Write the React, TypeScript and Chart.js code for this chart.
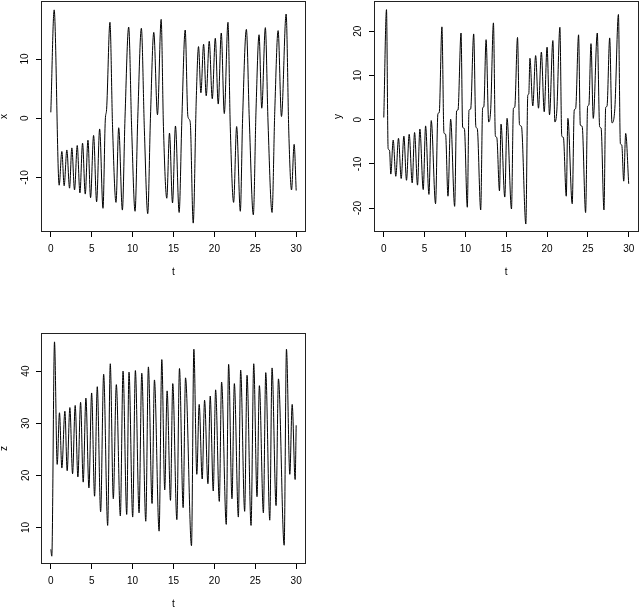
import React, { useEffect, useRef } from "react";
import { Chart, registerables } from "chart.js";
Chart.register(...registerables);

const FONT = "'Liberation Sans', Arial, Helvetica, sans-serif";

// time ticks shared by all panels
const tTicks = [0, 5, 10, 15, 20, 25, 30];

// x(t) (extrema and shoulders)
const tX = [0.0, 0.41, 1.02, 1.35, 1.63, 1.96, 2.29, 2.57, 2.9, 3.23, 3.56, 3.88, 4.21, 4.54, 4.86, 5.23, 5.6, 5.97, 6.38, 6.66, 6.82, 7.23, 7.55, 7.97, 8.3, 8.75, 9.07, 9.52, 9.89, 10.3, 10.63, 11.07, 11.44, 11.85, 12.18, 12.59, 13.04, 13.49, 13.77, 14.18, 14.51, 14.88, 15.24, 15.69, 16.02, 16.43, 16.76, 17.04, 17.41, 17.78, 18.06, 18.35, 18.68, 19.0, 19.37, 19.74, 20.11, 20.47, 20.84, 21.21, 21.66, 21.94, 22.35, 22.72, 23.17, 23.45, 23.91, 24.27, 24.76, 25.09, 25.46, 25.79, 26.23, 26.56, 27.05, 27.38, 27.79, 28.2, 28.77, 29.1, 29.43, 29.75, 30.0];
const xVals = [1.0, 18.3, -11.3, -5.6, -11.4, -5.35, -11.8, -5.0, -12.1, -4.6, -12.6, -4.2, -12.8, -3.7, -13.4, -2.9, -14.1, -1.8, -15.2, -0.3, 1.5, 16.2, -1.5, -14.2, -1.6, -15.5, 0.0, 15.4, -2.0, -15.7, 0.0, 15.2, -2.0, -16.1, 0.0, 14.5, 0.6, 16.7, -1.4, -13.5, -2.5, -14.3, -1.3, -15.9, -0.3, 14.9, 0.3, -0.6, -17.7, 3.1, 12.1, 4.3, 12.5, 3.8, 13.0, 3.3, 13.5, 2.4, 14.4, 0.8, 16.2, -1.4, -14.2, -1.4, -15.7, 0.0, 15.0, -0.3, -16.3, 1.4, 14.1, 1.7, 15.3, -0.8, -15.9, 1.1, 14.8, 0.3, 17.6, -2.5, -12.1, -4.4, -12.2];
const xTicksY = [-10, 0, 10];

// y(t)
const tY = [0.0, 0.33, 0.53, 0.7, 0.86, 1.15, 1.47, 1.8, 2.13, 2.46, 2.78, 3.11, 3.48, 3.77, 4.13, 4.42, 4.83, 5.12, 5.53, 5.81, 6.34, 6.63, 6.79, 7.12, 7.37, 7.57, 7.86, 8.19, 8.68, 8.92, 9.09, 9.46, 9.66, 9.87, 10.23, 10.44, 10.64, 11.01, 11.28, 11.45, 11.87, 12.11, 12.25, 12.53, 12.85, 13.1, 13.43, 13.67, 13.84, 14.17, 14.36, 14.82, 15.1, 15.64, 15.88, 16.04, 16.38, 16.62, 16.86, 17.4, 17.64, 17.76, 17.9, 18.25, 18.6, 18.95, 19.3, 19.65, 20.0, 20.3, 20.71, 20.96, 21.2, 21.57, 21.8, 22.0, 22.35, 22.55, 23.08, 23.33, 23.5, 23.86, 24.07, 24.3, 24.72, 24.97, 25.12, 25.38, 25.66, 26.15, 26.44, 26.62, 26.97, 27.18, 27.34, 27.67, 27.95, 28.3, 28.74, 28.98, 29.15, 29.39, 29.63, 30.0];
const yVals = [0.5, 24.9, -6.5, -6.9, -12.3, -4.6, -12.8, -4.2, -13.3, -3.7, -13.7, -3.3, -14.3, -2.9, -14.8, -2.1, -15.8, -1.4, -16.9, -0.2, -19.0, 1.4, 1.6, 21.0, -3.0, -3.3, -17.3, 0.1, -19.6, 2.0, 2.2, 19.6, -1.7, -2.0, -19.8, 2.2, 2.4, 19.4, -1.6, -2.0, -20.4, 2.7, 2.9, 18.1, -0.5, 2.5, 21.9, -3.7, -4.0, -16.1, -1.0, -17.5, 0.3, -20.2, 2.6, 2.8, 18.6, -1.1, -1.5, -23.6, 5.6, 5.8, 13.9, 3.1, 14.5, 2.6, 15.3, 1.8, 16.4, 1.1, 17.9, -0.5, 2.2, 20.9, -3.7, -4.0, -17.3, 0.3, -19.0, 2.2, 2.5, 19.2, -1.2, -1.5, -21.0, 3.1, 3.3, 17.2, 0.3, 19.6, -1.6, -1.9, -20.4, 2.8, 3.0, 18.5, -0.7, 2.5, 23.8, -5.4, -5.7, -13.9, -3.1, -14.5];
const yTicksY = [-20, -10, 0, 10, 20];

// z(t)
const tZ = [0.0, 0.12, 0.45, 0.78, 1.06, 1.35, 1.72, 2.0, 2.33, 2.66, 2.98, 3.31, 3.64, 3.96, 4.29, 4.66, 4.99, 5.35, 5.68, 6.09, 6.46, 6.95, 7.27, 7.64, 8.01, 8.5, 8.83, 9.28, 9.56, 10.01, 10.34, 10.79, 11.12, 11.61, 11.93, 12.38, 12.67, 13.24, 13.57, 13.93, 14.22, 14.63, 14.91, 15.41, 15.73, 16.18, 16.47, 17.2, 17.49, 17.85, 18.14, 18.51, 18.8, 19.21, 19.49, 19.86, 20.15, 20.6, 20.88, 21.45, 21.74, 22.15, 22.44, 22.93, 23.21, 23.7, 23.99, 24.48, 24.81, 25.21, 25.5, 25.99, 26.28, 26.77, 27.05, 27.54, 27.83, 28.53, 28.81, 29.22, 29.51, 29.87, 30.0];
const zVals = [5.8, 4.5, 45.6, 22.1, 32.0, 21.4, 32.3, 20.9, 33.0, 20.3, 33.4, 19.7, 34.0, 18.7, 34.8, 17.6, 35.8, 16.0, 37.0, 13.0, 39.4, 10.4, 41.4, 15.5, 37.4, 12.2, 40.0, 12.5, 39.8, 12.0, 40.1, 12.8, 39.6, 11.2, 40.8, 14.6, 38.3, 9.3, 42.2, 17.2, 36.2, 15.2, 37.6, 11.5, 40.5, 13.8, 38.7, 6.5, 44.2, 20.2, 33.6, 19.3, 34.4, 18.4, 35.2, 17.0, 36.4, 15.0, 37.9, 10.6, 41.3, 15.5, 37.6, 12.0, 40.2, 13.1, 39.2, 10.4, 41.4, 15.9, 37.2, 12.8, 39.7, 11.4, 40.6, 14.2, 38.5, 6.6, 44.2, 20.2, 33.6, 19.2, 29.6];
const zTicksY = [10, 20, 30, 40];

const boxPlugin = {
  id: "rbox",
  afterDraw(chart: any) {
    const { ctx, chartArea } = chart;
    ctx.save();
    ctx.strokeStyle = "#222";
    ctx.lineWidth = 1;
    const l = Math.round(chartArea.left) + 0.5;
    const t = Math.round(chartArea.top) + 0.5;
    const r = Math.round(chartArea.right) - 0.5;
    const b = Math.round(chartArea.bottom) - 0.5;
    ctx.strokeRect(l, t, r - l, b - t);
    ctx.restore();
  },
};

type PanelProps = {
  left: number;
  top: number;
  t: number[];
  v: number[];
  yTicks: number[];
  yMin: number;
  yMax: number;
  label: string;
  area: { left: number; top: number; right: number; bottom: number };
  yTitlePad: number;
  xTitlePad: number;
};

function Panel(p: PanelProps) {
  const ref = useRef<HTMLCanvasElement>(null);
  useEffect(() => {
    const W = 320;
    const H = 304;
    const zero = (s: any) => {
      s.paddingTop = 0;
      s.paddingBottom = 0;
      s.paddingLeft = 0;
      s.paddingRight = 0;
    };
    const chart = new Chart(ref.current as HTMLCanvasElement, {
      type: "line",
      data: {
        datasets: [
          {
            data: p.t.map((tt, i) => ({ x: tt, y: p.v[i] })),
            borderColor: "#000",
            borderWidth: 1,
            pointRadius: 0,
            cubicInterpolationMode: "monotone",
            fill: false,
          },
        ],
      },
      options: {
        responsive: false,
        animation: false,
        events: [],
        layout: {
          padding: { left: 0, top: p.area.top, right: W - p.area.right, bottom: 0 },
        },
        plugins: { legend: { display: false }, tooltip: { enabled: false } },
        scales: {
          x: {
            type: "linear",
            position: "bottom",
            min: -1.2,
            max: 31.2,
            afterBuildTicks: (s: any) => {
              s.ticks = tTicks.map((value) => ({ value }));
            },
            afterFit: (s: any) => {
              s.height = H - p.area.bottom;
              zero(s);
            },
            grid: { drawOnChartArea: false, drawTicks: true, tickLength: 5, color: "#000", lineWidth: 1 },
            border: { display: false },
            ticks: {
              padding: 6,
              color: "#000",
              font: { family: FONT, size: 10 },
              maxRotation: 0,
              minRotation: 0,
              autoSkip: false,
            },
            title: {
              display: true,
              text: "t",
              color: "#000",
              font: { family: FONT, size: 10, lineHeight: 0.8 },
              padding: { top: 0, bottom: p.xTitlePad },
            },
          },
          y: {
            type: "linear",
            position: "left",
            min: p.yMin,
            max: p.yMax,
            afterBuildTicks: (s: any) => {
              s.ticks = p.yTicks.map((value) => ({ value }));
            },
            afterFit: (s: any) => {
              s.width = p.area.left;
              zero(s);
            },
            grid: { drawOnChartArea: false, drawTicks: true, tickLength: 5, color: "#000", lineWidth: 1 },
            border: { display: false },
            ticks: {
              padding: 4,
              color: "#000",
              font: { family: FONT, size: 10 },
              minRotation: 90,
              maxRotation: 90,
              crossAlign: "center",
              autoSkip: false,
            },
            title: {
              display: true,
              text: p.label,
              color: "#000",
              font: { family: FONT, size: 10, lineHeight: 0.8 },
              padding: { top: p.yTitlePad, bottom: 0 },
            },
          },
        },
      },
      plugins: [boxPlugin],
    } as any);
    return () => chart.destroy();
  }, []);
  return (
    <canvas
      ref={ref}
      width={320}
      height={304}
      style={{ position: "absolute", left: p.left, top: p.top, width: 320, height: 304 }}
    />
  );
}

export default function App() {
  return (
    <div style={{ position: "absolute", left: 0, top: 0, width: 640, height: 608, background: "#fff", overflow: "hidden" }}>
      <Panel
        left={0}
        top={0}
        t={tX}
        v={xVals}
        yTicks={xTicksY}
        yMin={-19.2}
        yMax={19.8}
        label="x"
        area={{ left: 41, top: 1, right: 306, bottom: 232 }}
        yTitlePad={0}
        xTitlePad={28}
      />
      <Panel
        left={320}
        top={0}
        t={tY}
        v={yVals}
        yTicks={yTicksY}
        yMin={-25.4}
        yMax={26.85}
        label="y"
        area={{ left: 54, top: 1, right: 318.5, bottom: 232 }}
        yTitlePad={14}
        xTitlePad={28}
      />
      <Panel
        left={0}
        top={304}
        t={tZ}
        v={zVals}
        yTicks={zTicksY}
        yMin={3.0}
        yMax={47.3}
        label="z"
        area={{ left: 41, top: 29, right: 306, bottom: 260 }}
        yTitlePad={0}
        xTitlePad={0}
      />
    </div>
  );
}
